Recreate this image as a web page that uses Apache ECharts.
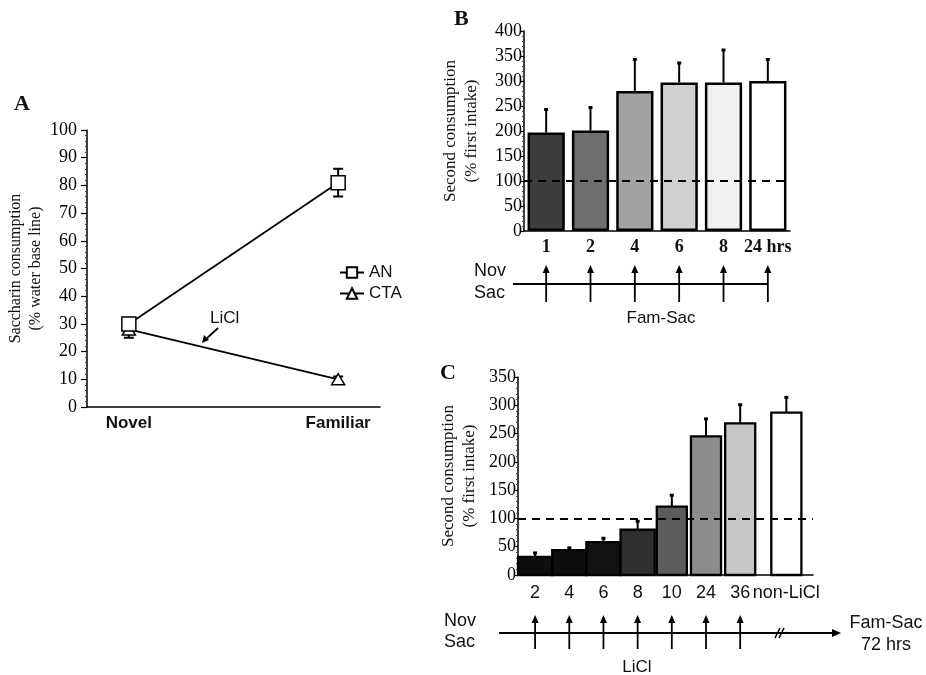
<!DOCTYPE html>
<html>
<head>
<meta charset="utf-8">
<script src="https://cdn.jsdelivr.net/npm/echarts@6/dist/echarts.min.js"></script>
<style>
html,body{margin:0;padding:0;background:#fff;}
#chart{width:926px;height:675px;}
</style>
</head>
<body>
<div id="chart"></div>
<script>
// ---------- DATA ----------
// Panel A
const aCategories = ['Novel', 'Familiar'];
const anValues = [30, 81];
const anErr = [2, 5];
const ctaValues = [28, 10];
const ctaErr = [3, 1];
// Panel B
const bCategories = ['1', '2', '4', '6', '8', '24 hrs'];
const bValues = [197, 201, 280, 297, 297, 300];
const bErrTop = [243, 247, 343, 336, 362, 343];
// Panel C
const cCategories = ['2', '4', '6', '8', '10', '24', '36', 'non-LiCl'];
const cValues = [32, 44, 58, 80, 121, 245, 268, 287];
const cErrTop = [39, 48, 65, 95, 141, 276, 301, 314];
const cLiClCount = 7;     // first 7 categories have LiCl arrows
const cWideCount = 4;     // first 4 bars are drawn edge to edge

// ---------- STYLES / LAYOUT ----------
const bBarColors = ['#3d3d3d', '#6e6e6e', '#a2a2a2', '#d0d0d0', '#f1f1f1', '#ffffff'];
const cBarColors = ['#0e0e0e', '#0e0e0e', '#121212', '#2f2f2f', '#5c5c5c', '#8c8c8c', '#c6c6c6', '#ffffff'];
const SERIF = 'Liberation Serif';
const SANS = 'Liberation Sans';
const INK = '#111';

const aX = i => 1 + 5 * i;                       // slot of category i on the A axis
const cX = i => (i < cLiClCount ? i : i + 0.35); // slot of category i on the C axis (control bar set apart)

function errRender(both) {
  return function (params, api) {
    const x = api.value(0), lo = api.value(1), hi = api.value(2);
    const pLo = api.coord([x, lo]), pHi = api.coord([x, hi]);
    const w = both ? 5 : 2;
    const st = { stroke: '#000', lineWidth: 2 };
    const ch = [
      { type: 'line', shape: { x1: pLo[0], y1: pLo[1], x2: pHi[0], y2: pHi[1] }, style: st },
      { type: 'line', shape: { x1: pHi[0] - w, y1: pHi[1], x2: pHi[0] + w, y2: pHi[1] }, style: { stroke: '#000', lineWidth: both ? 2 : 3 } }
    ];
    if (both) ch.push({ type: 'line', shape: { x1: pLo[0] - w, y1: pLo[1], x2: pLo[0] + w, y2: pLo[1] }, style: st });
    return { type: 'group', children: ch };
  };
}
function arrowRender(params, api) {
  const i = api.value(0);
  const p0 = api.coord([i, 0]), p1 = api.coord([i, 1]);
  return {
    type: 'group', children: [
      { type: 'line', shape: { x1: p0[0], y1: p0[1], x2: p1[0], y2: p1[1] + 4 }, style: { stroke: '#000', lineWidth: 1.8 } },
      { type: 'polygon', shape: { points: [[p1[0] - 3.5, p1[1] + 8], [p1[0], p1[1]], [p1[0] + 3.5, p1[1] + 8]] }, style: { fill: '#000' } }
    ]
  };
}
function cBarRender(params, api) {
  const x = api.value(0), v = api.value(1), i = params.dataIndex;
  const unit = api.size([1, 0])[0];
  const w = i < cWideCount ? unit : unit * 0.88;
  const p0 = api.coord([x, 0]), p1 = api.coord([x, v]);
  return {
    type: 'rect',
    shape: { x: p0[0] - w / 2, y: p1[1], width: w, height: p0[1] - p1[1] },
    style: { fill: cBarColors[i], stroke: '#000', lineWidth: 2.3 }
  };
}

function valueYAxis(gridIndex, max, interval, name, nameGap, fs, labelFs, tickLen, margin) {
  return {
    type: 'value', gridIndex: gridIndex, min: 0, max: max, interval: interval,
    name: name, nameLocation: 'middle', nameGap: nameGap,
    nameTextStyle: { fontFamily: SERIF, fontSize: fs, color: INK, lineHeight: fs + 4 },
    axisLine: { show: true, onZero: false, lineStyle: { color: '#000', width: 1.5 } },
    axisTick: { show: true, length: tickLen, lineStyle: { color: '#000', width: 1.2 } },
    minorTick: { show: true, splitNumber: 5, length: 2, lineStyle: { color: '#444', width: 1 } },
    splitLine: { show: false },
    axisLabel: { fontFamily: SERIF, fontSize: labelFs, color: '#000', margin: margin }
  };
}
const dashLine = {
  symbol: 'none', silent: true, label: { show: false },
  lineStyle: { type: [8, 6], color: '#000', width: 2 },
  data: [{ yAxis: 100 }]
};
const cXAxisBase = { type: 'value', min: -0.5, max: 8.13, splitLine: { show: false } };

const option = {
  backgroundColor: '#fff',
  animation: false,
  grid: [
    { left: 87, top: 130, width: 293, height: 277 },   // A
    { left: 524, top: 31, width: 266, height: 200 },   // B
    { left: 524, top: 265, width: 266, height: 37 },   // B timeline
    { left: 518, top: 377, width: 295, height: 198 },  // C
    { left: 518, top: 615, width: 295, height: 34 }    // C timeline
  ],
  xAxis: [
    {
      type: 'value', gridIndex: 0, min: 0, max: 7, interval: 1,
      axisLine: { show: true, onZero: false, lineStyle: { color: '#000', width: 1.5 } },
      axisTick: { show: false }, splitLine: { show: false },
      axisLabel: {
        fontFamily: SANS, fontWeight: 'bold', fontSize: 17, color: INK, margin: 8,
        formatter: v => { const i = aCategories.findIndex((c, k) => aX(k) === v); return i >= 0 ? aCategories[i] : ''; }
      }
    },
    {
      type: 'category', gridIndex: 1, data: bCategories,
      axisLine: { show: true, lineStyle: { color: '#000', width: 1.5 } },
      axisTick: { show: false },
      axisLabel: { interval: 0, fontFamily: SERIF, fontWeight: 'bold', fontSize: 18, color: INK, margin: 7 }
    },
    { type: 'category', gridIndex: 2, data: bCategories, show: false },
    Object.assign({}, cXAxisBase, {
      gridIndex: 3,
      axisLine: { show: true, onZero: false, lineStyle: { color: '#000', width: 1.5 } },
      axisTick: { show: false },
      axisLabel: {
        customValues: cCategories.map((c, i) => cX(i)),
        fontFamily: SANS, fontSize: 18, color: INK, margin: 9, showMinLabel: true, showMaxLabel: true,
        formatter: v => { const i = cCategories.findIndex((c, k) => Math.abs(cX(k) - v) < 1e-6); return i >= 0 ? cCategories[i] : ''; }
      }
    }),
    Object.assign({}, cXAxisBase, { gridIndex: 4, show: false })
  ],
  yAxis: [
    valueYAxis(0, 100, 10, 'Saccharin consumption\n(% water base line)', 37, 16, 18, 6, 10),
    valueYAxis(1, 400, 50, 'Second consumption\n(% first intake)', 42, 17, 18, 4, 2),
    { type: 'value', gridIndex: 2, min: 0, max: 1, show: false },
    valueYAxis(3, 350, 50, 'Second consumption\n(% first intake)', 38, 17, 18, 4, 2),
    { type: 'value', gridIndex: 4, min: 0, max: 1, show: false }
  ],
  legend: {
    orient: 'vertical', left: 334, top: 259, itemGap: 4, itemWidth: 24, itemHeight: 13,
    textStyle: { fontFamily: SANS, fontSize: 17, color: INK },
    data: ['AN', 'CTA']
  },
  series: [
    // ---- A ----
    {
      type: 'custom', xAxisIndex: 0, yAxisIndex: 0, z: 1, renderItem: errRender(true),
      data: anValues.map((v, i) => [aX(i), v - anErr[i], v + anErr[i]])
    },
    {
      type: 'custom', xAxisIndex: 0, yAxisIndex: 0, z: 1, renderItem: errRender(true),
      data: ctaValues.map((v, i) => [aX(i), v - ctaErr[i], v + ctaErr[i]])
    },
    {
      name: 'CTA', type: 'line', xAxisIndex: 0, yAxisIndex: 0, z: 3,
      symbol: 'triangle', symbolSize: [13, 11],
      lineStyle: { color: '#000', width: 1.8 },
      itemStyle: { color: '#fff', borderColor: '#000', borderWidth: 1.5 },
      data: ctaValues.map((v, i) => [aX(i), v])
    },
    {
      name: 'AN', type: 'line', xAxisIndex: 0, yAxisIndex: 0, z: 4,
      symbol: 'rect', symbolSize: 14,
      lineStyle: { color: '#000', width: 1.8 },
      itemStyle: { color: '#fff', borderColor: '#000', borderWidth: 1.5 },
      data: anValues.map((v, i) => [aX(i), v])
    },
    // ---- B ----
    {
      type: 'bar', xAxisIndex: 1, yAxisIndex: 1, barWidth: '84%', z: 2,
      itemStyle: { borderColor: '#000', borderWidth: 2.5 },
      data: bValues.map((v, i) => ({ value: v, itemStyle: { color: bBarColors[i] } })),
      markLine: dashLine
    },
    {
      type: 'custom', xAxisIndex: 1, yAxisIndex: 1, z: 1, renderItem: errRender(false),
      data: bValues.map((v, i) => [i, v, bErrTop[i]])
    },
    {
      type: 'custom', xAxisIndex: 2, yAxisIndex: 2, renderItem: arrowRender,
      data: bCategories.map((c, i) => [i])
    },
    // ---- C ----
    {
      type: 'custom', xAxisIndex: 3, yAxisIndex: 3, z: 2, renderItem: cBarRender,
      data: cValues.map((v, i) => [cX(i), v])
    },
    {
      type: 'line', xAxisIndex: 3, yAxisIndex: 3, z: 3, showSymbol: false, silent: true,
      lineStyle: { opacity: 0 },
      data: cValues.map((v, i) => [cX(i), '-']),
      markLine: dashLine
    },
    {
      type: 'custom', xAxisIndex: 3, yAxisIndex: 3, z: 1, renderItem: errRender(false),
      data: cValues.map((v, i) => [cX(i), v, cErrTop[i]])
    },
    {
      type: 'custom', xAxisIndex: 4, yAxisIndex: 4, renderItem: arrowRender,
      data: cCategories.slice(0, cLiClCount).map((c, i) => [cX(i)])
    }
  ],
  graphic: [
    // panel letters
    { type: 'text', left: 14, top: 93, style: { text: 'A', font: 'bold 22px "Liberation Serif"', fill: INK } },
    { type: 'text', left: 454, top: 8, style: { text: 'B', font: 'bold 22px "Liberation Serif"', fill: INK } },
    { type: 'text', left: 440, top: 362, style: { text: 'C', font: 'bold 22px "Liberation Serif"', fill: INK } },
    // LiCl annotation in A
    { type: 'text', left: 210, top: 310, style: { text: 'LiCl', font: '17px "Liberation Sans"', fill: INK } },
    { type: 'line', shape: { x1: 218, y1: 328, x2: 205, y2: 340 }, style: { stroke: '#000', lineWidth: 1.8 } },
    { type: 'polygon', shape: { points: [[202, 343], [204, 335], [209, 340]] }, style: { fill: '#000' } },
    // B timeline
    { type: 'line', shape: { x1: 513, y1: 284, x2: 768, y2: 284 }, style: { stroke: '#000', lineWidth: 1.8 } },
    { type: 'text', left: 474, top: 262, style: { text: 'Nov', font: '18px "Liberation Sans"', fill: INK } },
    { type: 'text', left: 474, top: 284, style: { text: 'Sac', font: '18px "Liberation Sans"', fill: INK } },
    { type: 'text', x: 661, y: 318, style: { text: 'Fam-Sac', font: '17px "Liberation Sans"', fill: INK, align: 'center', verticalAlign: 'middle' } },
    // C timeline
    { type: 'line', shape: { x1: 499, y1: 633, x2: 834, y2: 633 }, style: { stroke: '#000', lineWidth: 1.8 } },
    { type: 'polygon', shape: { points: [[832, 629], [841, 633], [832, 637]] }, style: { fill: '#000' } },
    { type: 'line', shape: { x1: 775, y1: 638, x2: 780, y2: 628 }, style: { stroke: '#000', lineWidth: 1.6 } },
    { type: 'line', shape: { x1: 779, y1: 638, x2: 784, y2: 628 }, style: { stroke: '#000', lineWidth: 1.6 } },
    { type: 'text', left: 444, top: 612, style: { text: 'Nov', font: '18px "Liberation Sans"', fill: INK } },
    { type: 'text', left: 444, top: 633, style: { text: 'Sac', font: '18px "Liberation Sans"', fill: INK } },
    { type: 'text', x: 637, y: 667, style: { text: 'LiCl', font: '17px "Liberation Sans"', fill: INK, align: 'center', verticalAlign: 'middle' } },
    { type: 'text', x: 886, y: 623, style: { text: 'Fam-Sac', font: '18px "Liberation Sans"', fill: INK, align: 'center', verticalAlign: 'middle' } },
    { type: 'text', x: 886, y: 645, style: { text: '72 hrs', font: '18px "Liberation Sans"', fill: INK, align: 'center', verticalAlign: 'middle' } }
  ]
};

const chart = echarts.init(document.getElementById('chart'), null, { renderer: 'canvas' });
chart.setOption(option);
</script>
</body>
</html>
